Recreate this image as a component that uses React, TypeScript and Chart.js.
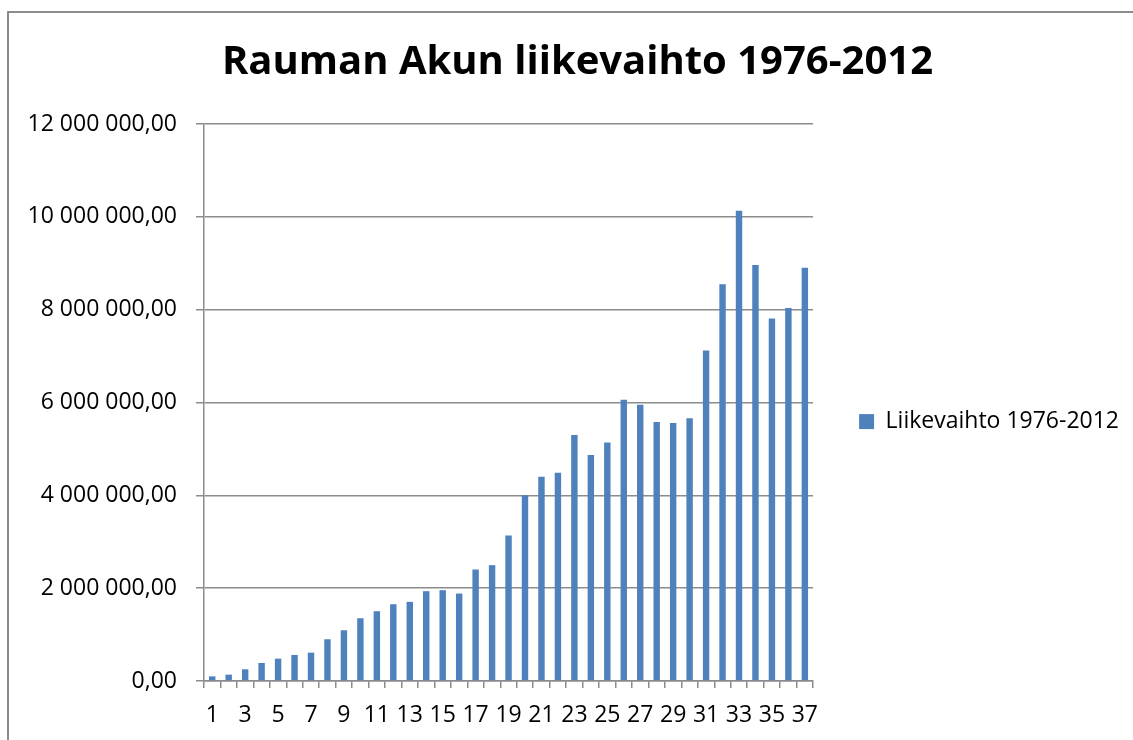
import React, { useEffect, useRef } from "react";
import { Chart, registerables } from "chart.js";

Chart.register(...registerables);

const categories: string[] = Array.from({ length: 37 }, (_, i) => String(i + 1));
const seriesLabel = "Liikevaihto 1976-2012";
const revenue: number[] = [
  100000, 137000, 252000, 388000, 482000, 561000, 611000, 899000, 1093000,
  1352000, 1503000, 1654000, 1705000, 1935000, 1956000, 1884000, 2402000,
  2496000, 3137000, 4000000, 4403000, 4489000, 5302000, 4870000, 5136000,
  6057000, 5949000, 5582000, 5561000, 5662000, 7119000, 8549000, 10130000,
  8960000, 7812000, 8036000, 8902000,
];
const titleText = "Rauman Akun liikevaihto 1976-2012";
const yMin = 0;
const yMax = 12000000;
const yStep = 2000000;

function formatFi(v: number): string {
  const s = Math.round(v).toString().replace(/\B(?=(\d{3})+(?!\d))/g, " ");
  return s + ",00";
}

const FONT = "'Open Sans', sans-serif";
const GRID = "#8c8c8c";

const borderPlugin = {
  id: "outerBorder",
  beforeDraw(chart: any) {
    const ctx = chart.ctx;
    ctx.save();
    ctx.fillStyle = "#ffffff";
    ctx.fillRect(0, 0, chart.width, chart.height);
    ctx.strokeStyle = "#8c8c8c";
    ctx.lineWidth = 2;
    ctx.beginPath();
    ctx.moveTo(8, chart.height);
    ctx.lineTo(8, 12);
    ctx.lineTo(chart.width, 12);
    ctx.stroke();
    ctx.restore();
  },
};

export default function App() {
  const ref = useRef<HTMLCanvasElement | null>(null);
  useEffect(() => {
    if (!ref.current) return;
    const chart = new Chart(ref.current, {
      type: "bar",
      data: {
        labels: categories,
        datasets: [
          {
            label: seriesLabel,
            data: revenue,
            backgroundColor: "#4f81bd",
            borderWidth: 0,
            categoryPercentage: 1,
            barPercentage: 0.39,
          },
        ],
      },
      options: {
        animation: false,
        responsive: false,
        devicePixelRatio: 1,
        layout: { padding: { left: 26, right: 4, top: 0, bottom: 8 } },
        plugins: {
          title: {
            display: true,
            text: titleText,
            color: "#000",
            font: { family: FONT, size: 40, weight: "bold" },
            padding: { top: 39, bottom: 37 },
          },
          legend: {
            display: true,
            position: "right",
            align: "center",
            fullSize: false,
            maxWidth: 500,
            title: { display: true, text: "", font: { size: 1 }, padding: { top: 37, bottom: 0 } },
            labels: {
              boxWidth: 15,
              boxHeight: 15,
              padding: 46,
              color: "#000",
              font: { family: FONT, size: 23 },
            },
          },
          tooltip: { enabled: false },
        },
        scales: {
          x: {
            grid: {
              offset: true,
              drawOnChartArea: false,
              drawTicks: true,
              tickLength: 7,
              color: GRID,
              lineWidth: 1.5,
            },
            border: { display: true, color: GRID, width: 1.5 },
            ticks: {
              autoSkip: false,
              maxRotation: 0,
              color: "#000",
              padding: 14,
              font: { family: FONT, size: 23 },
              callback: (_v: any, i: number) => (i % 2 === 0 ? categories[i] : ""),
            },
            afterFit: (scale: any) => {
              scale.height = 51;
            },
          },
          y: {
            min: yMin,
            max: yMax,
            ticks: {
              stepSize: yStep,
              color: "#000",
              padding: 19,
              font: { family: FONT, size: 23 },
              callback: (v: any) => formatFi(Number(v)),
            },
            grid: { color: GRID, tickLength: 8, lineWidth: 1.5 },
            border: { display: true, color: GRID, width: 1.5 },
            afterFit: (scale: any) => {
              scale.width = 178;
            },
          },
        },
      },
      plugins: [borderPlugin],
    });
    return () => chart.destroy();
  }, []);
  return (
    <div style={{ position: "absolute", left: 0, top: 0, width: 1133, height: 740 }}>
      <canvas ref={ref} width={1133} height={740} />
    </div>
  );
}
